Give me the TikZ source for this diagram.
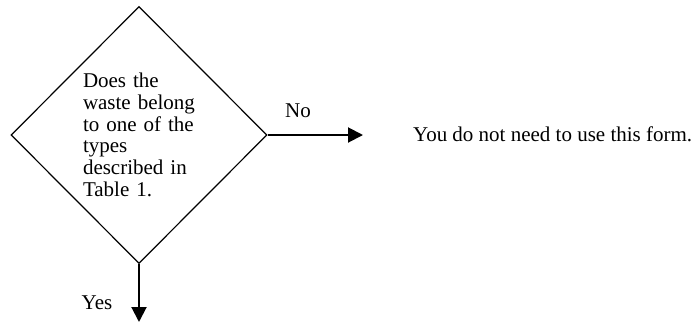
\documentclass[tikz,border=0pt]{standalone}
\usepackage{fontspec}
\setmainfont{Liberation Serif}
\usetikzlibrary{shapes.geometric,arrows.meta}
\begin{document}
\begin{tikzpicture}[x=1pt,y=1pt]
\tikzstyle{every node}+=[inner sep=0pt,font=\fontsize{21}{21.7}\selectfont]
\tikzstyle{decision}=[diamond,draw=black,line width=1.2pt,minimum width=256pt,minimum height=257pt,text width=112pt,align=left]
\tikzstyle{flow}=[black,line width=2pt,-{Triangle[length=15pt,width=15pt]}]
\useasboundingbox (0,0) rectangle (696,-322);
% the question
\node [decision] (q) at (139,-135) {Does the\\waste belong\\to one of the\\types\\described in\\Table 1.};
\coordinate (noend) at (363,-135);
\coordinate (yesend) at (139,-322);
\node [anchor=west] (form) at (413,-134) {You do not need to use this form.};
\node (no) at (298,-111) {No};
\node (yes) at (97,-303) {Yes};
\draw [flow] (q.east) -- (noend);
\draw [flow] (q.south) -- (yesend);
\end{tikzpicture}
\end{document}
